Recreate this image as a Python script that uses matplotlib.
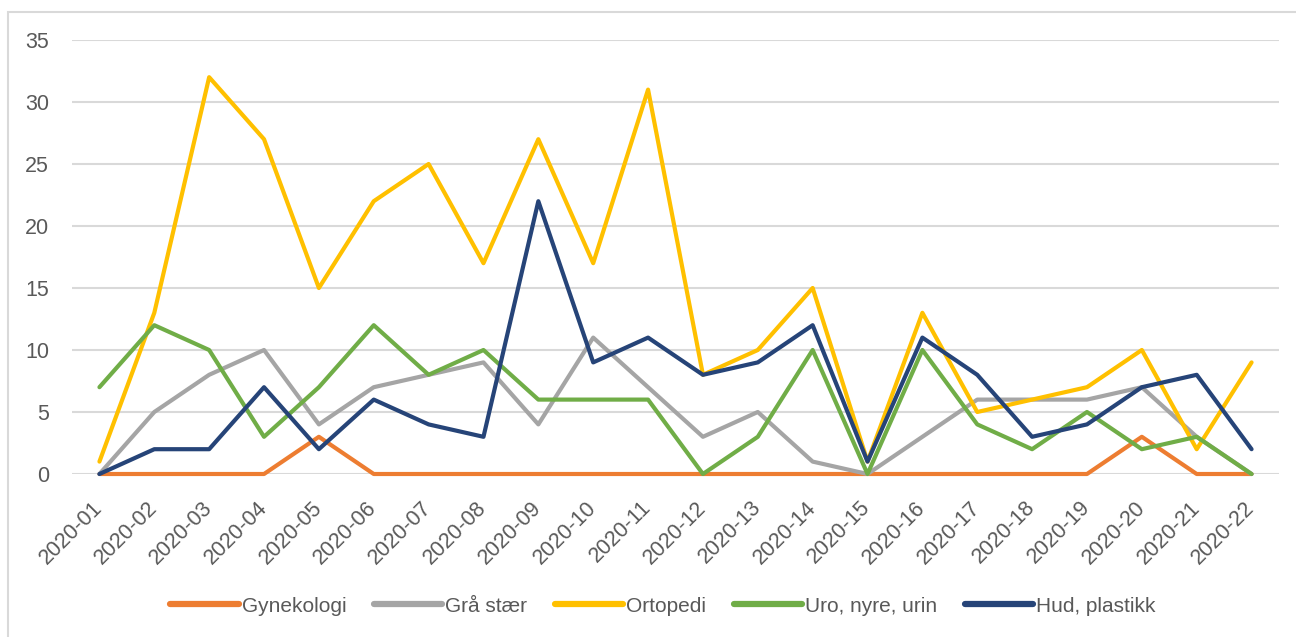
import matplotlib
matplotlib.use("Agg")
import matplotlib.pyplot as plt
from matplotlib.patches import Rectangle

categories = [f"2020-{i:02d}" for i in range(1, 23)]
gynekologi = [0, 0, 0, 0, 3, 0, 0, 0, 0, 0, 0, 0, 0, 0, 0, 0, 0, 0, 0, 3, 0, 0]
graa_staer = [0, 5, 8, 10, 4, 7, 8, 9, 4, 11, 7, 3, 5, 1, 0, 3, 6, 6, 6, 7, 3, 0]
ortopedi = [1, 13, 32, 27, 15, 22, 25, 17, 27, 17, 31, 8, 10, 15, 1, 13, 5, 6, 7, 10, 2, 9]
uro = [7, 12, 10, 3, 7, 12, 8, 10, 6, 6, 6, 0, 3, 10, 0, 10, 4, 2, 5, 2, 3, 0]
hud = [0, 2, 2, 7, 2, 6, 4, 3, 22, 9, 11, 8, 9, 12, 1, 11, 8, 3, 4, 7, 8, 2]
yticks = [0, 5, 10, 15, 20, 25, 30, 35]

series = [
    ("Gynekologi", gynekologi, "#ED7D31"),
    ("Grå stær", graa_staer, "#A5A5A5"),
    ("Ortopedi", ortopedi, "#FFC000"),
    ("Uro, nyre, urin", uro, "#70AD47"),
    ("Hud, plastikk", hud, "#264478"),
]

plt.rcParams['font.family'] = ['Liberation Sans', 'DejaVu Sans']
txt = "#595959"

fig = plt.figure(figsize=(12.96, 6.37), dpi=100)
ax = fig.add_axes([72/1296, 1-474/637, (1279-72)/1296, (474-40)/637])

x = list(range(len(categories)))
for name, vals, col in series:
    ax.plot(x, vals, color=col, lw=3, label=name, solid_joinstyle='round',
            solid_capstyle='round', zorder=3, clip_on=False)

ax.set_xlim(-0.5, len(categories) - 0.5)
ax.set_ylim(0, 35)
ax.set_yticks(yticks)
ax.set_xticks(x)
ax.set_xticklabels(categories, rotation=45, ha='right', va='center',
                   rotation_mode='anchor')
ax.tick_params(axis='both', length=0, labelsize=15.5, colors=txt)
ax.tick_params(axis='y', pad=16.5)
ax.tick_params(axis='x', pad=22)
ax.grid(axis='y', color='#D9D9D9', lw=1.5, zorder=0)
for s in ax.spines.values():
    s.set_visible(False)

leg = ax.legend(loc='center', bbox_to_anchor=(663/1296, 1-606/637),
                bbox_transform=fig.transFigure, ncol=5, frameon=False,
                fontsize=15, handlelength=3.3, handletextpad=0.15,
                columnspacing=1.3, labelcolor=txt)
for h in leg.get_lines():
    h.set_linewidth(4.5)

fig.patches.append(Rectangle((7.5/1296, -10/637), 1400/1296, (637-11.5+10)/637,
                             transform=fig.transFigure, fill=False,
                             edgecolor='#D9D9D9', lw=1.5))

fig.savefig("out.png", dpi=100)
